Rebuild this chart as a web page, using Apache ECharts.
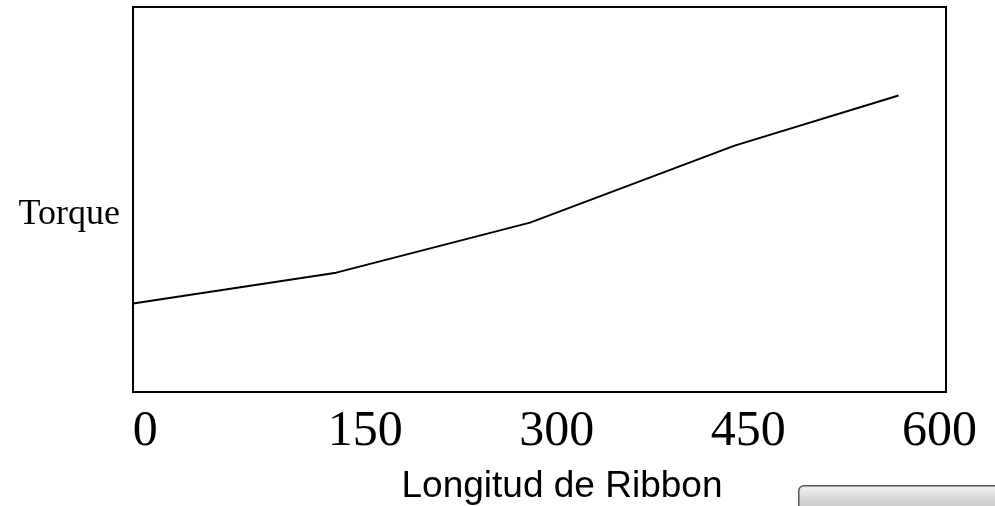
<!DOCTYPE html>
<html>
<head>
<meta charset="utf-8">
<script src="https://cdn.jsdelivr.net/npm/echarts@6/dist/echarts.min.js"></script>
<style>
  html, body { margin: 0; padding: 0; background: #fff; }
  #main { width: 995px; height: 506px; }
</style>
</head>
<body>
<div id="main"></div>
<script>
// longitud de ribbon (x) y torque (y, sin escala)
var longitud = [0, 150, 293, 444, 565];
var torque = [23, 31, 44, 64, 77];
var tickLabels = [0, 150, 300, 450, 600];

var chart = echarts.init(document.getElementById('main'));

var option = {
  animation: false,
  backgroundColor: '#fff',
  grid: {
    left: 133,
    right: 49,
    top: 7,
    bottom: 114,
    outerBoundsMode: 'none',
    containLabel: false,
    show: true,
    borderColor: '#000',
    borderWidth: 2,
    backgroundColor: 'transparent'
  },
  xAxis: [
    {
      type: 'value',
      min: 0,
      max: 600,
      axisLine: { show: false },
      axisTick: { show: false },
      axisLabel: { show: false },
      splitLine: { show: false }
    },
    {
      // solo para las etiquetas
      type: 'value',
      min: -32,
      max: 605,
      position: 'bottom',
      axisLine: { show: false },
      axisTick: { show: false },
      splitLine: { show: false },
      axisLabel: {
        customValues: tickLabels,
        margin: 15,
        fontFamily: 'Liberation Serif',
        fontSize: 50,
        color: '#000',
        formatter: function (v) {
          return v === 0 ? '{z|0}' : String(v);
        },
        rich: {
          z: {
            fontFamily: 'Liberation Serif',
            fontSize: 50,
            color: '#000',
            padding: [0, 57, 0, 0]
          }
        }
      },
      name: 'Longitud de Ribbon',
      nameLocation: 'middle',
      nameGap: 76,
      nameTextStyle: {
        fontFamily: 'Liberation Sans',
        fontSize: 37,
        color: '#000',
        padding: [0, 0, 0, 45]
      }
    }
  ],
  yAxis: {
    type: 'value',
    min: 0,
    max: 100,
    axisLine: { show: false },
    axisTick: { show: false },
    axisLabel: { show: false },
    splitLine: { show: false },
    name: 'Torque',
    nameLocation: 'middle',
    nameRotate: 0,
    nameGap: 13,
    nameTextStyle: {
      fontFamily: 'Liberation Serif',
      fontSize: 36,
      color: '#000',
      verticalAlign: 'top',
      lineHeight: 30
    }
  },
  series: [
    {
      type: 'line',
      xAxisIndex: 0,
      data: longitud.map(function (x, i) { return [x, torque[i]]; }),
      symbol: 'none',
      lineStyle: { color: '#000', width: 2 }
    }
  ],
  graphic: [
    {
      type: 'rect',
      left: 798,
      top: 485,
      shape: { width: 210, height: 30, r: [5, 0, 0, 0] },
      style: {
        fill: new echarts.graphic.LinearGradient(0, 0, 0, 1, [
          { offset: 0, color: '#f2f2f2' },
          { offset: 0.5, color: '#d4d4d4' },
          { offset: 1, color: '#c4c4c4' }
        ]),
        stroke: '#555',
        lineWidth: 1.5
      },
      silent: true
    }
  ]
};

chart.setOption(option);
</script>
</body>
</html>
